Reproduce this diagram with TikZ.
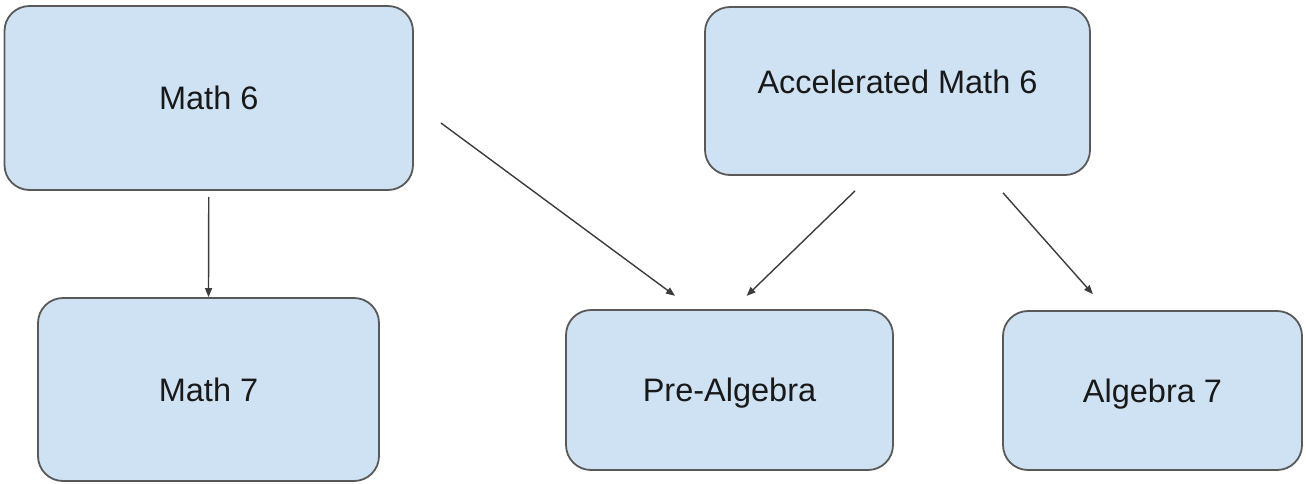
\documentclass[tikz,border=0pt]{standalone}
\usepackage{fontspec}
\setmainfont{Liberation Sans}
\usetikzlibrary{arrows.meta, calc}
\definecolor{cFill}{HTML}{CFE2F3}
\definecolor{cEdge}{HTML}{595959}
\definecolor{cLink}{HTML}{3C3C3C}
\tikzset{
  course/.style={
    draw=cEdge, line width=1.8pt,
    rounded corners=25pt,
    fill=cFill,
    text=black!90,
    align=center,
    inner sep=0pt,
    text height=23.5pt, text depth=0pt,
    font=\fontsize{32.5}{39}\selectfont
  },
  prereq/.style={
    -{Triangle[length=9pt,width=7pt]},
    line width=1.4pt,
    draw=cLink
  }
}

\begin{document}
\begin{tikzpicture}[x=1pt, y=-1pt]
  \useasboundingbox (0,0) rectangle (1306,483);

  \node[course, minimum width=408.5pt, minimum height=184pt] (m6) at (208.75,98) {Math 6};
  \node[course, minimum width=385pt, minimum height=168pt, text depth=18.2pt] (am) at (897.5,91) {Accelerated Math 6};

  \node[course, minimum width=341pt, minimum height=183pt] (m7) at (208.5,389.5) {Math 7};
  \node[course, minimum width=327pt, minimum height=160pt] (pa) at (729.5,390) {Pre-Algebra};
  \node[course, minimum width=299pt, minimum height=159pt] (a7) at (1152.5,390.5) {Algebra 7};

  \draw[prereq, shorten <=6pt] (m6.south) -- (m7.north);
  \draw[prereq, shorten <=33.6pt, shorten >=22.4pt] ($(m6.east)+(0,5)$) -- ($(pa.north)+(-36.5,0)$);
  \draw[prereq, shorten <=21.5pt, shorten >=19pt] ($(am.south)+(-27,0)$) -- ($(pa.north)+(3.5,0)$);
  \draw[prereq, shorten <=22.6pt, shorten >=21.3pt] ($(am.south)+(90.5,0)$) -- ($(a7.north)+(-45.5,0)$);
\end{tikzpicture}
\end{document}
